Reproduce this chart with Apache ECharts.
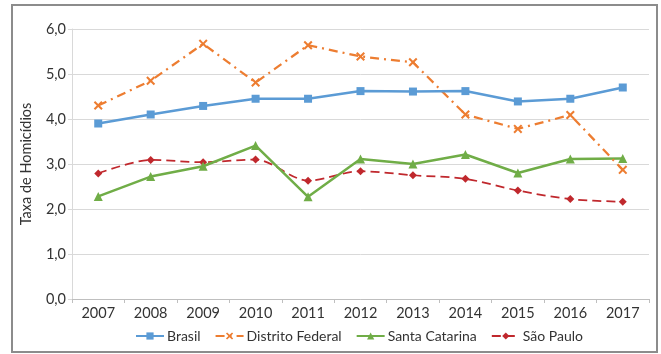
<!DOCTYPE html>
<html>
<head>
<meta charset="utf-8">
<script src="https://cdn.jsdelivr.net/npm/echarts@6/dist/echarts.min.js"></script>
<style>
  html, body { margin: 0; padding: 0; background: #fff; }
  #chart { width: 661px; height: 354px; }
</style>
</head>
<body>
<div id="chart"></div>
<script>
// Homicide rates per year, by region
const years = ['2007', '2008', '2009', '2010', '2011', '2012', '2013', '2014', '2015', '2016', '2017'];
const brasil = [3.90, 4.10, 4.29, 4.45, 4.45, 4.62, 4.61, 4.62, 4.39, 4.45, 4.70];
const distritoFederal = [4.30, 4.85, 5.67, 4.81, 5.64, 5.39, 5.26, 4.10, 3.78, 4.09, 2.87];
const santaCatarina = [2.28, 2.72, 2.95, 3.41, 2.27, 3.11, 3.00, 3.21, 2.80, 3.11, 3.12];
const saoPaulo = [2.79, 3.09, 3.04, 3.10, 2.63, 2.84, 2.75, 2.67, 2.41, 2.22, 2.16];
const yTicks = [0, 1, 2, 3, 4, 5, 6];

const FONT = 'Lato';
const TEXT = '#333333';
const crossPath = 'path://M0,1.6 L1.6,0 L5,3.4 L8.4,0 L10,1.6 L6.6,5 L10,8.4 L8.4,10 L5,6.6 L1.6,10 L0,8.4 L3.4,5 Z';

const chart = echarts.init(document.getElementById('chart'), null, { renderer: 'canvas' });
chart.setOption({
  animation: false,
  backgroundColor: '#ffffff',
  textStyle: { fontFamily: FONT },
  graphic: [{
    type: 'rect',
    shape: { x: 12, y: 5, width: 645, height: 347 },
    style: { fill: 'none', stroke: '#8c8c8c', lineWidth: 2 },
    silent: true
  }],
  grid: { left: 72, right: 12, top: 29, bottom: 55, containLabel: false },
  legend: {
    bottom: 6,
    left: 130,
    itemWidth: 28,
    itemHeight: 9,
    itemGap: 14,
    textStyle: { fontFamily: FONT, fontSize: 14, color: TEXT, padding: [0, 0, 0, -2] },
    data: ['Brasil', 'Distrito Federal', 'Santa Catarina', 'São Paulo']
  },
  xAxis: {
    type: 'category',
    data: years,
    boundaryGap: true,
    axisLine: { lineStyle: { color: '#bfbfbf', width: 1 } },
    axisTick: { show: true, length: 4, lineStyle: { color: '#bfbfbf' } },
    axisLabel: { fontFamily: FONT, fontSize: 14.5, color: TEXT, margin: 7 }
  },
  yAxis: {
    type: 'value',
    min: yTicks[0],
    max: yTicks[yTicks.length - 1],
    interval: 1,
    name: 'Taxa de Homicídios',
    nameLocation: 'middle',
    nameGap: 38,
    nameRotate: 90,
    nameTextStyle: { fontFamily: FONT, fontSize: 14.5, color: TEXT },
    axisLine: { show: true, lineStyle: { color: '#d9d9d9', width: 1 } },
    axisTick: { show: true, length: 4, lineStyle: { color: '#d9d9d9' } },
    splitLine: { lineStyle: { color: '#d9d9d9', width: 1 } },
    axisLabel: {
      fontFamily: FONT, fontSize: 14.5, color: TEXT, margin: 6,
      formatter: v => v.toFixed(1).replace('.', ',')
    }
  },
  series: [
    {
      name: 'Brasil',
      type: 'line',
      data: brasil,
      symbol: 'rect',
      symbolSize: 8,
      lineStyle: { color: '#5b9bd5', width: 2.5 },
      itemStyle: { color: '#5b9bd5' },
      z: 4
    },
    {
      name: 'Distrito Federal',
      type: 'line',
      data: distritoFederal,
      symbol: crossPath,
      symbolSize: 9,
      lineStyle: { color: '#ed7d31', width: 2.25, type: [9, 5, 2, 5] },
      itemStyle: { color: '#ed7d31' },
      z: 3
    },
    {
      name: 'Santa Catarina',
      type: 'line',
      data: santaCatarina,
      symbol: 'triangle',
      symbolSize: 9,
      lineStyle: { color: '#70ad47', width: 2.5 },
      itemStyle: { color: '#70ad47' },
      z: 2
    },
    {
      name: 'São Paulo',
      type: 'line',
      data: saoPaulo,
      smooth: 0.3,
      symbol: 'diamond',
      symbolSize: 8,
      lineStyle: { color: '#c0282d', width: 1.75, type: [9, 5] },
      itemStyle: { color: '#c0282d' },
      z: 1
    }
  ]
});
</script>
</body>
</html>
